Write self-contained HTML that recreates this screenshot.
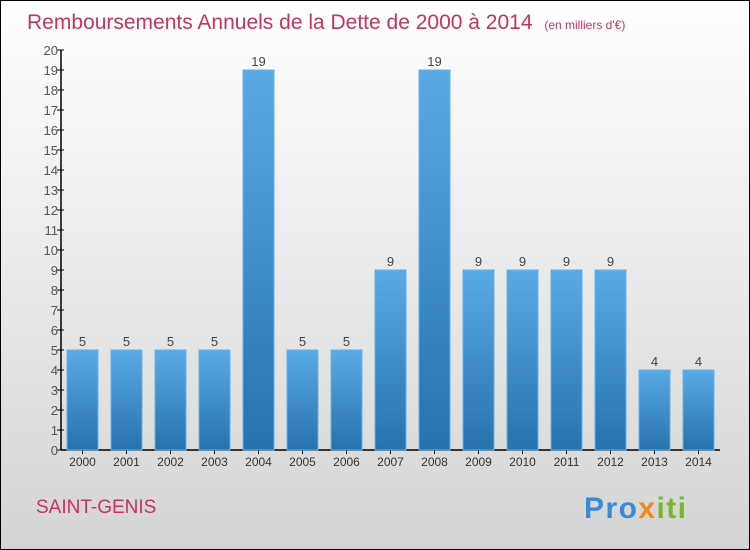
<!DOCTYPE html>
<html><head><meta charset="utf-8"><style>
body{margin:0}
svg{display:block;font-family:"Liberation Sans",sans-serif}
</style></head><body>
<svg id="chart" width="750" height="550" xmlns="http://www.w3.org/2000/svg">
<defs>
<linearGradient id="bg" x1="0" y1="0" x2="0" y2="1"><stop offset="0" stop-color="#ffffff"/><stop offset="1" stop-color="#d4d4d4"/></linearGradient>
<linearGradient id="bar" x1="0" y1="0" x2="0" y2="1"><stop offset="0" stop-color="#5aaae6"/><stop offset="1" stop-color="#2672ad"/></linearGradient>
</defs>
<rect x="0.5" y="0.5" width="749" height="549" fill="url(#bg)" stroke="#000"/>
<text x="27" y="29" font-size="21" fill="#c8325f">Remboursements Annuels de la Dette de 2000 à 2014 <tspan font-size="12" dx="6">(en milliers d'€)</tspan></text>
<text x="36" y="513" font-size="19" fill="#c8325f">SAINT-GENIS</text>
<text x="584" y="518" font-size="30" font-weight="bold" textLength="102"><tspan fill="#3a8ad8">Pro</tspan><tspan fill="#f08a1a">x</tspan><tspan fill="#7ab82a">iti</tspan></text>
<g id="axes"></g><g id="bars"></g>
</svg>
<script>
const years=["2000","2001","2002","2003","2004","2005","2006","2007","2008","2009","2010","2011","2012","2013","2014"];
const values=[5,5,5,5,19,5,5,9,19,9,9,9,9,4,4];
const yTicks=[0,1,2,3,4,5,6,7,8,9,10,11,12,13,14,15,16,17,18,19,20];
const NS="http://www.w3.org/2000/svg";
const x0=61,y0=450,yTop=50,yMax=20,step=44,bw=31,first=67;
const y=v=>y0-(v/yMax)*(y0-yTop);
const xb=i=>first+i*step;
function mk(t,a,p,txt){const e=document.createElementNS(NS,t);for(const k in a)e.setAttribute(k,a[k]);if(txt!==undefined)e.textContent=txt;p.appendChild(e);return e;}
const ax=document.getElementById('axes'),bg=document.getElementById('bars');
const yl=mk('line',{x1:x0,y1:y0,x2:x0,y2:yTop,stroke:'#000','stroke-width':1.5},ax);


const xl=mk('line',{x1:x0,y1:y0,x2:720,y2:y0,stroke:'#000','stroke-width':1.5},ax);


yTicks.forEach(v=>{
 const t=mk('line',{x1:x0-4,y1:y(v),x2:x0+3,y2:y(v),stroke:'#000'},ax);
 
 
 const l=mk('text',{x:x0-3,y:y(v)+5,'font-size':13,'text-anchor':'end',fill:'#555'},ax,v);
 
 
});
years.forEach((yr,i)=>{
 const r=mk('rect',{x:xb(i),y:y(values[i]),width:bw,height:y0-y(values[i]),fill:'url(#bar)',stroke:'#63b2ec','stroke-width':1},bg);
 
 
 const v=mk('text',{x:xb(i)+bw/2,y:y(values[i])-4,'font-size':13,'text-anchor':'middle',fill:'#444'},bg,values[i]);
 
 
 const tk=mk('line',{x1:xb(i)+bw/2,y1:y0,x2:xb(i)+bw/2,y2:y0+4,stroke:'#000'},ax);
 
 
 const l=mk('text',{x:xb(i)+bw/2,y:y0+16,'font-size':12,'text-anchor':'middle',fill:'#333'},ax,yr);
 
 
});
</script>
</body></html>
